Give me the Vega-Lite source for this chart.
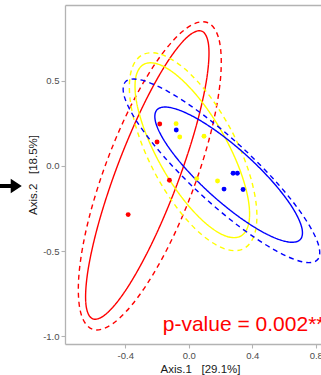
{
  "$schema": "https://vega.github.io/schema/vega-lite/v6.json",
  "autosize": "none",
  "width": 256,
  "height": 339,
  "padding": {"left": 65, "top": 5, "right": 0, "bottom": 31},
  "background": "white",
  "datasets": {
    "pts": [
      {"g": "R", "x": -0.183, "y": 0.247},
      {"g": "R", "x": -0.200, "y": 0.141},
      {"g": "R", "x": -0.122, "y": -0.084},
      {"g": "R", "x": -0.382, "y": -0.286},
      {"g": "Y", "x": -0.080, "y": 0.249},
      {"g": "Y", "x": -0.057, "y": 0.171},
      {"g": "Y", "x": 0.096, "y": 0.175},
      {"g": "Y", "x": 0.050, "y": -0.074},
      {"g": "Y", "x": 0.181, "y": -0.088},
      {"g": "B", "x": -0.079, "y": 0.212},
      {"g": "B", "x": 0.279, "y": -0.043},
      {"g": "B", "x": 0.306, "y": -0.043},
      {"g": "B", "x": 0.222, "y": -0.136},
      {"g": "B", "x": 0.342, "y": -0.138}
    ],
    "ell": [
      {"id": "RS", "g": "R", "t": "solid", "i": 0, "x": 0.0813, "y": 0.7933},
      {"id": "RS", "g": "R", "t": "solid", "i": 1, "x": 0.1255, "y": 0.7041},
      {"id": "RS", "g": "R", "t": "solid", "i": 2, "x": 0.1107, "y": 0.4996},
      {"id": "RS", "g": "R", "t": "solid", "i": 3, "x": 0.0393, "y": 0.2110},
      {"id": "RS", "g": "R", "t": "solid", "i": 4, "x": -0.0779, "y": -0.1177},
      {"id": "RS", "g": "R", "t": "solid", "i": 5, "x": -0.2231, "y": -0.4366},
      {"id": "RS", "g": "R", "t": "solid", "i": 6, "x": -0.3741, "y": -0.6971},
      {"id": "RS", "g": "R", "t": "solid", "i": 7, "x": -0.5079, "y": -0.8595},
      {"id": "RS", "g": "R", "t": "solid", "i": 8, "x": -0.6043, "y": -0.8991},
      {"id": "RS", "g": "R", "t": "solid", "i": 9, "x": -0.6485, "y": -0.8099},
      {"id": "RS", "g": "R", "t": "solid", "i": 10, "x": -0.6337, "y": -0.6054},
      {"id": "RS", "g": "R", "t": "solid", "i": 11, "x": -0.5623, "y": -0.3168},
      {"id": "RS", "g": "R", "t": "solid", "i": 12, "x": -0.4451, "y": 0.0119},
      {"id": "RS", "g": "R", "t": "solid", "i": 13, "x": -0.2999, "y": 0.3308},
      {"id": "RS", "g": "R", "t": "solid", "i": 14, "x": -0.1489, "y": 0.5913},
      {"id": "RS", "g": "R", "t": "solid", "i": 15, "x": -0.0151, "y": 0.7537},

      {"id": "RD", "g": "R", "t": "dashed", "i": 0, "x": 0.1168, "y": 0.8440},
      {"id": "RD", "g": "R", "t": "dashed", "i": 1, "x": 0.1916, "y": 0.7395},
      {"id": "RD", "g": "R", "t": "dashed", "i": 2, "x": 0.1998, "y": 0.5136},
      {"id": "RD", "g": "R", "t": "dashed", "i": 3, "x": 0.1402, "y": 0.2007},
      {"id": "RD", "g": "R", "t": "dashed", "i": 4, "x": 0.0219, "y": -0.1516},
      {"id": "RD", "g": "R", "t": "dashed", "i": 5, "x": -0.1372, "y": -0.4897},
      {"id": "RD", "g": "R", "t": "dashed", "i": 6, "x": -0.3128, "y": -0.7619},
      {"id": "RD", "g": "R", "t": "dashed", "i": 7, "x": -0.4782, "y": -0.9271},
      {"id": "RD", "g": "R", "t": "dashed", "i": 8, "x": -0.6082, "y": -0.9598},
      {"id": "RD", "g": "R", "t": "dashed", "i": 9, "x": -0.6830, "y": -0.8553},
      {"id": "RD", "g": "R", "t": "dashed", "i": 10, "x": -0.6912, "y": -0.6294},
      {"id": "RD", "g": "R", "t": "dashed", "i": 11, "x": -0.6316, "y": -0.3165},
      {"id": "RD", "g": "R", "t": "dashed", "i": 12, "x": -0.5133, "y": 0.0358},
      {"id": "RD", "g": "R", "t": "dashed", "i": 13, "x": -0.3542, "y": 0.3739},
      {"id": "RD", "g": "R", "t": "dashed", "i": 14, "x": -0.1786, "y": 0.6461},
      {"id": "RD", "g": "R", "t": "dashed", "i": 15, "x": -0.0132, "y": 0.8113},

      {"id": "YS", "g": "Y", "t": "solid", "i": 0, "x": -0.2845, "y": 0.5974},
      {"id": "YS", "g": "Y", "t": "solid", "i": 1, "x": -0.1882, "y": 0.5977},
      {"id": "YS", "g": "Y", "t": "solid", "i": 2, "x": -0.0599, "y": 0.5211},
      {"id": "YS", "g": "Y", "t": "solid", "i": 3, "x": 0.0810, "y": 0.3793},
      {"id": "YS", "g": "Y", "t": "solid", "i": 4, "x": 0.2128, "y": 0.1939},
      {"id": "YS", "g": "Y", "t": "solid", "i": 5, "x": 0.3156, "y": -0.0069},
      {"id": "YS", "g": "Y", "t": "solid", "i": 6, "x": 0.3737, "y": -0.1924},
      {"id": "YS", "g": "Y", "t": "solid", "i": 7, "x": 0.3784, "y": -0.3345},
      {"id": "YS", "g": "Y", "t": "solid", "i": 8, "x": 0.3287, "y": -0.4116},
      {"id": "YS", "g": "Y", "t": "solid", "i": 9, "x": 0.2324, "y": -0.4119},
      {"id": "YS", "g": "Y", "t": "solid", "i": 10, "x": 0.1041, "y": -0.3353},
      {"id": "YS", "g": "Y", "t": "solid", "i": 11, "x": -0.0368, "y": -0.1935},
      {"id": "YS", "g": "Y", "t": "solid", "i": 12, "x": -0.1686, "y": -0.0081},
      {"id": "YS", "g": "Y", "t": "solid", "i": 13, "x": -0.2714, "y": 0.1927},
      {"id": "YS", "g": "Y", "t": "solid", "i": 14, "x": -0.3295, "y": 0.3782},
      {"id": "YS", "g": "Y", "t": "solid", "i": 15, "x": -0.3342, "y": 0.5203},

      {"id": "YD", "g": "Y", "t": "dashed", "i": 0, "x": -0.2918, "y": 0.6542},
      {"id": "YD", "g": "Y", "t": "dashed", "i": 1, "x": -0.1740, "y": 0.6564},
      {"id": "YD", "g": "Y", "t": "dashed", "i": 2, "x": -0.0256, "y": 0.5715},
      {"id": "YD", "g": "Y", "t": "dashed", "i": 3, "x": 0.1309, "y": 0.4124},
      {"id": "YD", "g": "Y", "t": "dashed", "i": 4, "x": 0.2717, "y": 0.2033},
      {"id": "YD", "g": "Y", "t": "dashed", "i": 5, "x": 0.3753, "y": -0.0240},
      {"id": "YD", "g": "Y", "t": "dashed", "i": 6, "x": 0.4259, "y": -0.2347},
      {"id": "YD", "g": "Y", "t": "dashed", "i": 7, "x": 0.4158, "y": -0.3970},
      {"id": "YD", "g": "Y", "t": "dashed", "i": 8, "x": 0.3466, "y": -0.4860},
      {"id": "YD", "g": "Y", "t": "dashed", "i": 9, "x": 0.2288, "y": -0.4882},
      {"id": "YD", "g": "Y", "t": "dashed", "i": 10, "x": 0.0804, "y": -0.4033},
      {"id": "YD", "g": "Y", "t": "dashed", "i": 11, "x": -0.0761, "y": -0.2442},
      {"id": "YD", "g": "Y", "t": "dashed", "i": 12, "x": -0.2169, "y": -0.0351},
      {"id": "YD", "g": "Y", "t": "dashed", "i": 13, "x": -0.3205, "y": 0.1922},
      {"id": "YD", "g": "Y", "t": "dashed", "i": 14, "x": -0.3711, "y": 0.4029},
      {"id": "YD", "g": "Y", "t": "dashed", "i": 15, "x": -0.3610, "y": 0.5652},

      {"id": "BS", "g": "B", "t": "solid", "i": 0, "x": -0.2008, "y": 0.3302},
      {"id": "BS", "g": "B", "t": "solid", "i": 1, "x": -0.1240, "y": 0.3451},
      {"id": "BS", "g": "B", "t": "solid", "i": 2, "x": 0.0100, "y": 0.2996},
      {"id": "BS", "g": "B", "t": "solid", "i": 3, "x": 0.1807, "y": 0.2008},
      {"id": "BS", "g": "B", "t": "solid", "i": 4, "x": 0.3620, "y": 0.0637},
      {"id": "BS", "g": "B", "t": "solid", "i": 5, "x": 0.5265, "y": -0.0908},
      {"id": "BS", "g": "B", "t": "solid", "i": 6, "x": 0.6491, "y": -0.2393},
      {"id": "BS", "g": "B", "t": "solid", "i": 7, "x": 0.7110, "y": -0.3591},
      {"id": "BS", "g": "B", "t": "solid", "i": 8, "x": 0.7030, "y": -0.4320},
      {"id": "BS", "g": "B", "t": "solid", "i": 9, "x": 0.6262, "y": -0.4469},
      {"id": "BS", "g": "B", "t": "solid", "i": 10, "x": 0.4922, "y": -0.4014},
      {"id": "BS", "g": "B", "t": "solid", "i": 11, "x": 0.3215, "y": -0.3026},
      {"id": "BS", "g": "B", "t": "solid", "i": 12, "x": 0.1402, "y": -0.1655},
      {"id": "BS", "g": "B", "t": "solid", "i": 13, "x": -0.0243, "y": -0.0110},
      {"id": "BS", "g": "B", "t": "solid", "i": 14, "x": -0.1469, "y": 0.1375},
      {"id": "BS", "g": "B", "t": "solid", "i": 15, "x": -0.2088, "y": 0.2573},

      {"id": "BD", "g": "B", "t": "dashed", "i": 0, "x": -0.3995, "y": 0.4947},
      {"id": "BD", "g": "B", "t": "dashed", "i": 1, "x": -0.3023, "y": 0.5064},
      {"id": "BD", "g": "B", "t": "dashed", "i": 2, "x": -0.1278, "y": 0.4366},
      {"id": "BD", "g": "B", "t": "dashed", "i": 3, "x": 0.0975, "y": 0.2961},
      {"id": "BD", "g": "B", "t": "dashed", "i": 4, "x": 0.3393, "y": 0.1061},
      {"id": "BD", "g": "B", "t": "dashed", "i": 5, "x": 0.5607, "y": -0.1043},
      {"id": "BD", "g": "B", "t": "dashed", "i": 6, "x": 0.7281, "y": -0.3033},
      {"id": "BD", "g": "B", "t": "dashed", "i": 7, "x": 0.8159, "y": -0.4604},
      {"id": "BD", "g": "B", "t": "dashed", "i": 8, "x": 0.8109, "y": -0.5517},
      {"id": "BD", "g": "B", "t": "dashed", "i": 9, "x": 0.7137, "y": -0.5634},
      {"id": "BD", "g": "B", "t": "dashed", "i": 10, "x": 0.5392, "y": -0.4936},
      {"id": "BD", "g": "B", "t": "dashed", "i": 11, "x": 0.3139, "y": -0.3531},
      {"id": "BD", "g": "B", "t": "dashed", "i": 12, "x": 0.0721, "y": -0.1631},
      {"id": "BD", "g": "B", "t": "dashed", "i": 13, "x": -0.1493, "y": 0.0473},
      {"id": "BD", "g": "B", "t": "dashed", "i": 14, "x": -0.3167, "y": 0.2463},
      {"id": "BD", "g": "B", "t": "dashed", "i": 15, "x": -0.4045, "y": 0.4034}
    ],
    "ann": [{"label": "p-value = 0.002**", "x": -0.164, "y": -0.971}],
    "arrow": [{"x": -1.128, "y": -0.118}]
  },
  "resolve": {"axis": {"x": "independent"}},
  "layer": [
    {
      "data": {"name": "ell"},
      "mark": {"type": "line", "interpolate": "cardinal-closed", "strokeWidth": 1.4},
      "encoding": {
        "x": {
          "field": "x", "type": "quantitative",
          "scale": {"domain": [-0.78, 0.833], "nice": false, "zero": false},
          "axis": {
            "orient": "bottom",
            "values": [-0.4, 0, 0.4, 0.8],
            "labelExpr": "datum.value < 0 ? '-' + format(-datum.value, '.1f') : format(datum.value, '.1f')",
            "labelFlush": false,
            "labelOverlap": false,
            "title": "Axis.1\u00a0\u00a0\u00a0[29.1%]",
            "titleX": 135,
            "titleAnchor": null
          }
        },
        "y": {
          "field": "y", "type": "quantitative",
          "scale": {"domain": [-1.047, 0.947], "nice": false, "zero": false},
          "axis": {
            "values": [-1, -0.5, 0, 0.5],
            "labelExpr": "datum.value < 0 ? '-' + format(-datum.value, '.1f') : format(datum.value, '.1f')",
            "labelFlush": false,
            "labelOverlap": false,
            "title": "Axis.2\u00a0\u00a0\u00a0[18.5%]"
          }
        },
        "color": {
          "field": "g", "type": "nominal", "legend": null,
          "scale": {"domain": ["R", "Y", "B"], "range": ["#FF0000", "#FFFF00", "#0000FF"]}
        },
        "strokeDash": {
          "field": "t", "type": "nominal", "legend": null,
          "scale": {"domain": ["solid", "dashed"], "range": [[1, 0], [5, 4]]}
        },
        "detail": {"field": "id"},
        "order": {"field": "i", "type": "quantitative"}
      }
    },
    {
      "data": {"name": "pts"},
      "mark": {"type": "circle", "size": 24, "opacity": 1},
      "encoding": {
        "x": {
          "field": "x", "type": "quantitative",
          "axis": {"orient": "top", "labels": false, "ticks": false, "title": null, "domain": true}
        },
        "y": {"field": "y", "type": "quantitative"},
        "color": {"field": "g", "type": "nominal", "legend": null}
      }
    },
    {
      "data": {"name": "ann"},
      "mark": {"type": "text", "align": "left", "baseline": "alphabetic", "fontSize": 21, "font": "Liberation Sans", "color": "#FF0000"},
      "encoding": {
        "x": {"field": "x", "type": "quantitative", "axis": null},
        "y": {"field": "y", "type": "quantitative"},
        "text": {"field": "label"}
      }
    },
    {
      "data": {"name": "arrow"},
      "mark": {
        "type": "point",
        "shape": "M-1,-0.17L0.08,-0.17L0.08,-0.6L1,0L0.08,0.6L0.08,0.17L-1,0.17Z",
        "size": 576,
        "filled": true,
        "color": "#000000",
        "opacity": 1,
        "strokeWidth": 0
      },
      "encoding": {
        "x": {"field": "x", "type": "quantitative", "axis": null},
        "y": {"field": "y", "type": "quantitative"}
      }
    }
  ],
  "config": {
    "view": {"stroke": null},
    "axis": {
      "grid": false,
      "domainColor": "#B3B3B3",
      "domainWidth": 1.3,
      "tickColor": "#B3B3B3",
      "tickSize": 4,
      "tickWidth": 1.1,
      "labelColor": "#4D4D4D",
      "labelFont": "Liberation Sans",
      "labelFontSize": 9.5,
      "labelPadding": 2,
      "titleFont": "Liberation Sans",
      "titleFontSize": 11.5,
      "titleFontWeight": "normal",
      "titleColor": "#1A1A1A",
      "titlePadding": 4
    }
  }
}
